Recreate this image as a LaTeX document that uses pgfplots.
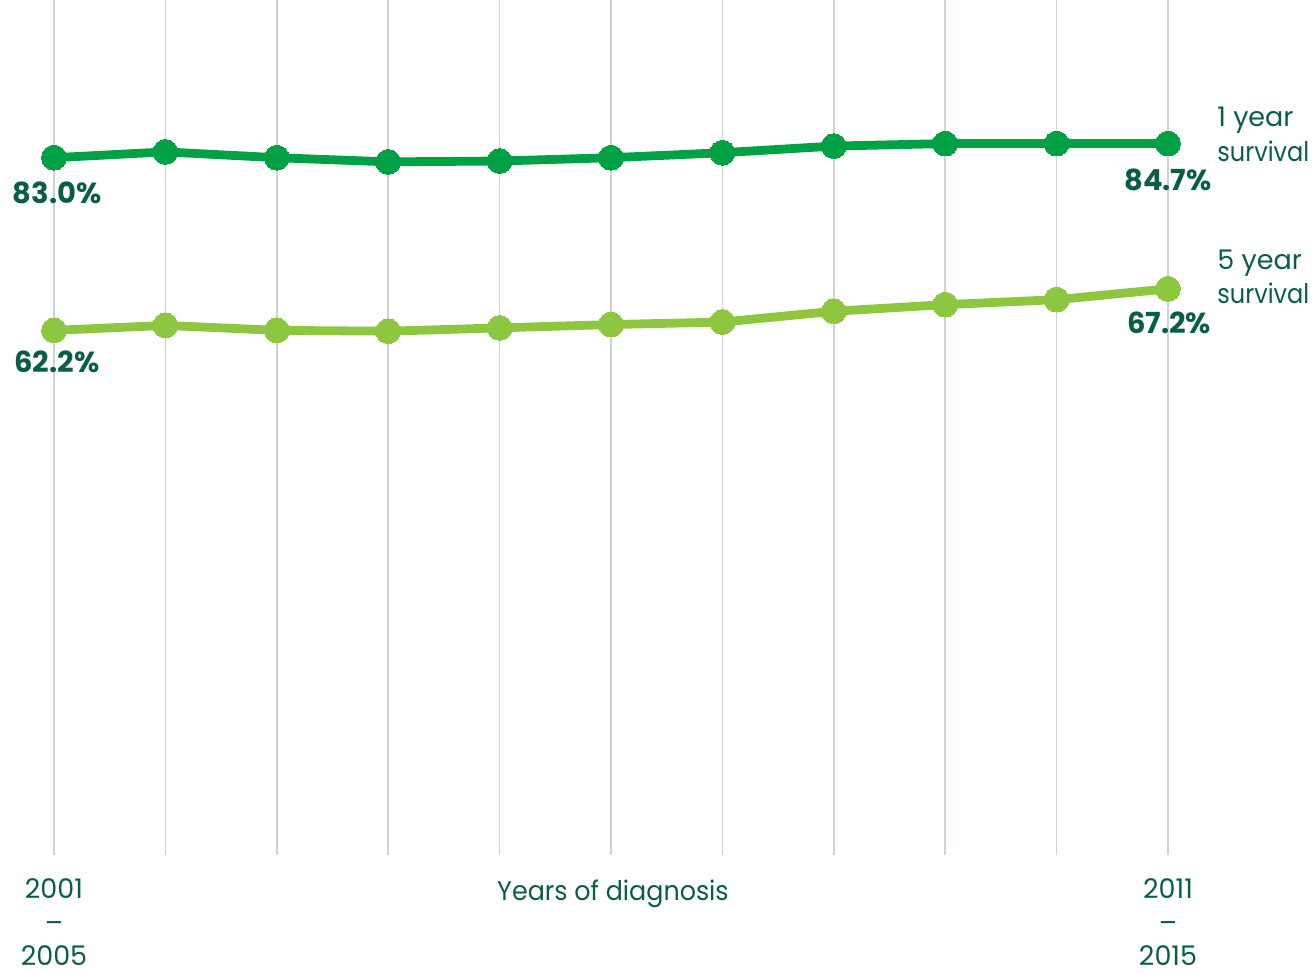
\documentclass[border=0pt]{standalone}
\usepackage{pgfplots}
\pgfplotsset{compat=1.18}
\usepackage{fontspec}
\setmainfont{Poppins}
\newfontfamily\narrowa[FakeStretch=0.89]{Poppins}
\newfontfamily\narrowb[FakeStretch=0.94]{Poppins}
\definecolor{oneyr}{HTML}{00A144}
\definecolor{fiveyr}{HTML}{8DC63F}
\definecolor{txt}{HTML}{0B5E46}
\definecolor{gridc}{HTML}{CDD3DA}

% survival (%) by year of diagnosis, 2001-2005 ... 2011-2015
\pgfplotstableread{
x  one   five
0  83.0  62.2
1  83.7  62.8
2  83.0  62.2
3  82.5  62.1
4  82.6  62.5
5  83.0  62.9
6  83.6  63.2
7  84.4  64.5
8  84.7  65.3
9  84.7  65.9
10 84.7  67.2
}\survival

\begin{document}
\begin{tikzpicture}[x=1pt,y=1pt]
\begin{axis}[
  at={(0,0)}, anchor=south west,
  scale only axis, width=557pt, height=427.5pt,
  xmin=0, xmax=10, ymin=-1, ymax=102,
  clip=false,
  axis line style={draw=none},
  ytick=\empty,
  xtick={0,...,10},
  xticklabels={2001\\–\\2005,,,,,,,,,,2011\\–\\2015},
  major tick length=0pt,
  xmajorgrids,
  grid style={gridc, line width=0.75pt},
  xticklabel style={align=center, anchor=north, inner sep=0pt, yshift=-11.5pt,
    font=\fontsize{13.5}{16.9}\selectfont, text=txt},
]
\addplot[oneyr, line width=4.4pt, mark=*, mark size=6.2pt,
  mark options={fill=oneyr, draw=oneyr, line width=0pt}]
  table[x=x, y=one] {\survival};
\addplot[fiveyr, line width=4.4pt, mark=*, mark size=6.2pt,
  mark options={fill=fiveyr, draw=fiveyr, line width=0pt}]
  table[x=x, y=five] {\survival};

\begin{scope}[every node/.style={text=txt, font=\fontsize{14.5}{17}\selectfont\bfseries, inner sep=0pt}]
\node at (axis cs:0,83.0) [yshift=-17.5pt, xshift=1.5pt] {83.0\%};
\node at (axis cs:10,84.7) [yshift=-18pt] {84.7\%};
\node at (axis cs:0,62.2) [yshift=-15.5pt, xshift=1.5pt] {62.2\%};
\node at (axis cs:10,67.2) [yshift=-17pt, xshift=0.5pt] {67.2\%};
\end{scope}

\begin{scope}[every node/.style={text=txt, font=\fontsize{13.5}{17}\selectfont, inner sep=0pt, anchor=base west}]
\node at (axis cs:10.44,86.75) {1 year};
\node at (axis cs:10.44,82.53) {\narrowa survival};
\node at (axis cs:10.44,69.48) {5 year};
\node at (axis cs:10.44,65.47) {\narrowa survival};
\node[anchor=base] at (axis cs:5,-1) [yshift=-22.85pt, xshift=1pt] {\narrowb Years of diagnosis};
\end{scope}
\end{axis}
\pgfresetboundingbox
\useasboundingbox (-27,-59) rectangle (630.5,427.5);
\end{tikzpicture}
\end{document}
